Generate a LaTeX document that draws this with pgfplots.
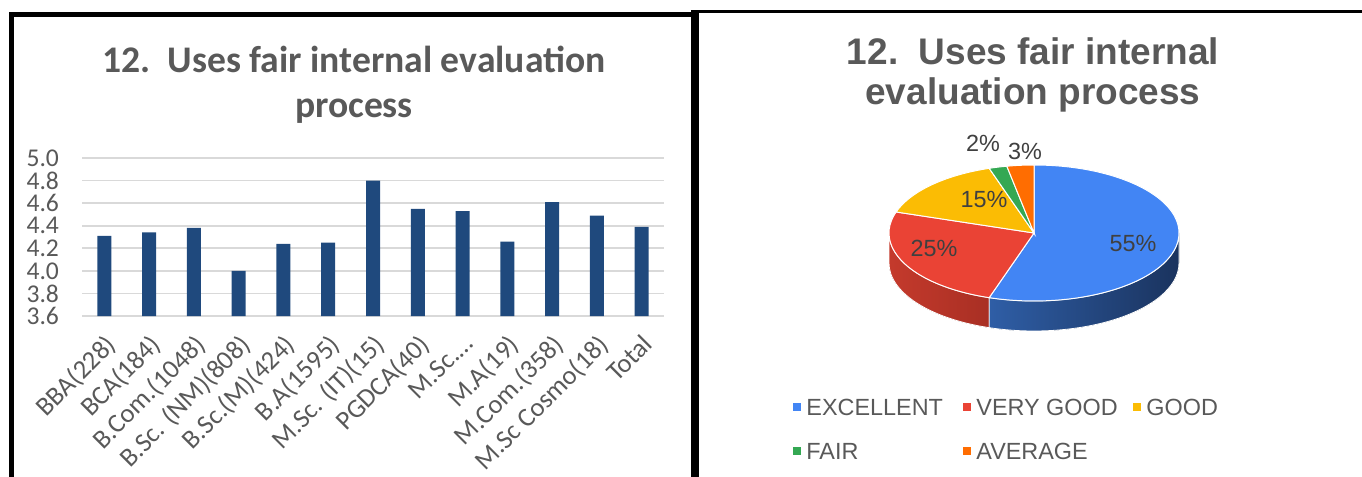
\documentclass[border=0pt]{standalone}
\usepackage{pgfplots}
\pgfplotsset{compat=1.18}
\usepackage{fontspec}
\setmainfont{Carlito}
\newfontfamily\arial{Liberation Sans}
\definecolor{barc}{HTML}{1F497D}
\definecolor{txt}{HTML}{595959}
\definecolor{grd}{HTML}{D9D9D9}
\definecolor{pBlue}{HTML}{4285F4}
\definecolor{pRed}{HTML}{EA4335}
\definecolor{pYel}{HTML}{FBBC04}
\definecolor{pGrn}{HTML}{34A853}
\definecolor{pOra}{HTML}{FF6D01}
\definecolor{lbl}{HTML}{404040}
\definecolor{sBlueL}{HTML}{2F5EA6}
\definecolor{sBlueD}{HTML}{1A335E}
\definecolor{sRedL}{HTML}{C43A2C}
\definecolor{sRedD}{HTML}{9C2A20}

\pgfplotstableread{
x y
0 4.31
1 4.34
2 4.38
3 4.00
4 4.24
5 4.25
6 4.80
7 4.55
8 4.53
9 4.26
10 4.61
11 4.49
12 4.39
}\bardata

% pie shares (percent)
\def\vA{55}\def\vB{25}\def\vC{15}\def\vD{2}\def\vE{3}
\pgfmathsetmacro\aA{90}
\pgfmathsetmacro\aB{\aA-3.6*\vA}
\pgfmathsetmacro\aC{\aB-3.6*\vB}
\pgfmathsetmacro\aD{\aC-3.6*\vC}
\pgfmathsetmacro\aE{\aD-3.6*\vD}
\pgfmathsetmacro\aF{\aE-3.6*\vE}
\def\rx{72.5pt}\def\ry{34pt}\def\dep{15pt}

\begin{document}
\begin{tikzpicture}[x=0.5pt,y=0.5pt]
\path[use as bounding box] (0,0) rectangle (1362,477);
% frames
\draw[line width=2.5pt,line cap=rect] (11.5,0) -- (11.5,462.5) -- (692,462.5);
\draw[line width=4pt] (695,0) -- (695,467);
\draw[line width=1.5pt] (697,465.5) -- (1362,465.5);

% left title
\node[align=center,text=txt,font=\bfseries\fontsize{18.8}{22.5}\selectfont] at (354,392)
  {12.\ \ Uses fair internal evaluation\\process};

\begin{axis}[at={(186.5pt,120pt)},anchor=center,scale only axis,
  width=291pt,height=79pt,
  xmin=-0.5,xmax=12.5,ymin=3.6,ymax=5.0,
  ytick={3.6,3.8,4.0,4.2,4.4,4.6,4.8,5.0},
  yticklabel style={/pgf/number format/fixed,/pgf/number format/fixed zerofill,
     /pgf/number format/precision=1,/pgf/number format/assume math mode=true,
     font=\fontsize{12.8}{14}\selectfont,text=txt,xshift=-8pt},
  xtick={0,...,12},
  xticklabels={BBA(228),BCA(184),B.Com.(1048),B.Sc. (NM)(808),B.Sc.(M)(424),B.A(1595),M.Sc. (IT)(15),PGDCA(40),M.Sc.…,M.A(19),M.Com.(358),M.Sc Cosmo(18),Total},
  xticklabel style={rotate=45,anchor=north east,font=\fontsize{13.3}{15}\selectfont,text=txt,inner sep=1pt,xshift=-2pt,yshift=-1.5pt},
  axis line style={draw=none},tick style={draw=none},
  ymajorgrids,grid style={draw=grd,line width=0.8pt},
  ybar,bar width=7pt]
\addplot[fill=barc,draw=none] table[x=x,y=y] {\bardata};
\end{axis}

% right title
\node[align=center,text=txt,font=\arial\bfseries\fontsize{18.5}{20}\selectfont] at (1033,402)
  {12.\ \ Uses fair internal\\evaluation process};

\begin{axis}[at={(517pt,122pt)},anchor=center,x=0.5pt,y=0.5pt,
  xmin=-150,xmax=150,ymin=-100,ymax=100,hide axis,clip=false]
% sides
\fill[left color=sRedL,right color=sRedD,draw=white,line width=0.4pt]
  (0,0) ++(-180:\rx\space and \ry) arc[start angle=-180,end angle=\aB,x radius=\rx,y radius=\ry]
  -- ++(0pt,-\dep) arc[start angle=\aB,end angle=-180,x radius=\rx,y radius=\ry] -- cycle;
\fill[left color=sBlueL,right color=sBlueD,draw=white,line width=0.4pt]
  (0,0) ++(\aB:\rx\space and \ry) arc[start angle=\aB,end angle=0,x radius=\rx,y radius=\ry]
  -- ++(0pt,-\dep) arc[start angle=0,end angle=\aB,x radius=\rx,y radius=\ry] -- cycle;
% top
\filldraw[fill=pBlue,draw=white,line width=0.5pt] (0,0) -- ++(\aA:\rx\space and \ry) arc[start angle=\aA,end angle=\aB,x radius=\rx,y radius=\ry] -- cycle;
\filldraw[fill=pRed,draw=white,line width=0.5pt] (0,0) -- ++(\aB:\rx\space and \ry) arc[start angle=\aB,end angle=\aC,x radius=\rx,y radius=\ry] -- cycle;
\filldraw[fill=pYel,draw=white,line width=0.5pt] (0,0) -- ++(\aC:\rx\space and \ry) arc[start angle=\aC,end angle=\aD,x radius=\rx,y radius=\ry] -- cycle;
\filldraw[fill=pGrn,draw=white,line width=0.5pt] (0,0) -- ++(\aD:\rx\space and \ry) arc[start angle=\aD,end angle=\aE,x radius=\rx,y radius=\ry] -- cycle;
\filldraw[fill=pOra,draw=white,line width=0.5pt] (0,0) -- ++(\aE:\rx\space and \ry) arc[start angle=\aE,end angle=\aF,x radius=\rx,y radius=\ry] -- cycle;
% labels
\begin{scope}[every node/.style={text=lbl,font=\arial\fontsize{11.7}{14}\selectfont}]
\node at (axis cs:99,-10) {\vA\%};
\node at (axis cs:-100,-15) {\vB\%};
\node at (axis cs:-50,34) {\vC\%};
\node at (axis cs:-51,90) {\vD\%};
\node at (axis cs:-9,82) {\vE\%};
\end{scope}
\end{axis}

% legend
\begin{scope}[every node/.style={anchor=west,text=txt,inner sep=0pt,font=\arial\fontsize{11.7}{14}\selectfont}]
\fill[pBlue] (793,66) rectangle (801,74); \node at (806,70) {EXCELLENT};
\fill[pRed]  (963,66) rectangle (971,74); \node at (976,70) {VERY GOOD};
\fill[pYel]  (1133,66) rectangle (1141,74); \node at (1146,70) {GOOD};
\fill[pGrn]  (793,22) rectangle (801,30); \node at (806,26) {FAIR};
\fill[pOra]  (963,22) rectangle (971,30); \node at (976,26) {AVERAGE};
\end{scope}
\end{tikzpicture}
\end{document}
